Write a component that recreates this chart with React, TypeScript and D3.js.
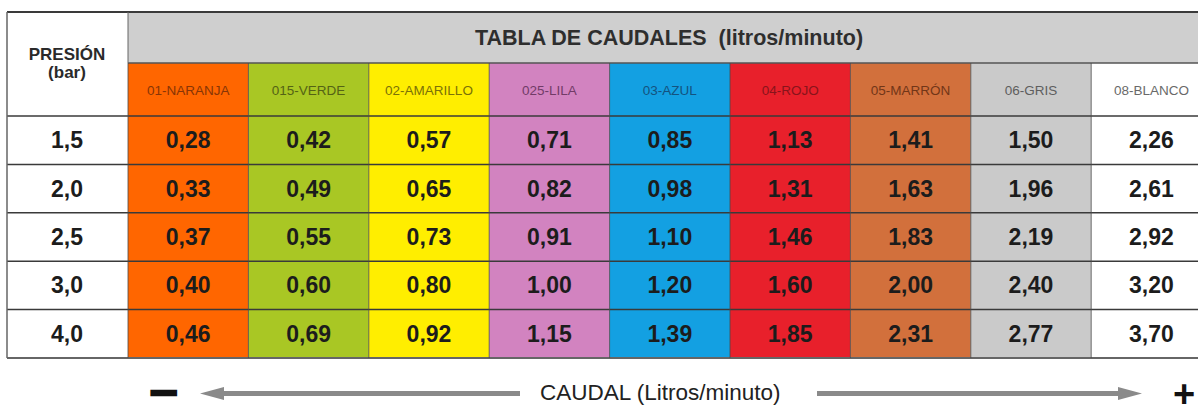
import React from "react";
import * as d3 from "d3";

const pressures = ["1,5", "2,0", "2,5", "3,0", "4,0"];
const nozzles = [
  "01-NARANJA",
  "015-VERDE",
  "02-AMARILLO",
  "025-LILA",
  "03-AZUL",
  "04-ROJO",
  "05-MARRÓN",
  "06-GRIS",
  "08-BLANCO",
];
const naranja = [0.28, 0.33, 0.37, 0.4, 0.46];
const verde = [0.42, 0.49, 0.55, 0.6, 0.69];
const amarillo = [0.57, 0.65, 0.73, 0.8, 0.92];
const lila = [0.71, 0.82, 0.91, 1.0, 1.15];
const azul = [0.85, 0.98, 1.1, 1.2, 1.39];
const rojo = [1.13, 1.31, 1.46, 1.6, 1.85];
const marron = [1.41, 1.63, 1.83, 2.0, 2.31];
const gris = [1.5, 1.96, 2.19, 2.4, 2.77];
const blanco = [2.26, 2.61, 2.92, 3.2, 3.7];
const series = [naranja, verde, amarillo, lila, azul, rojo, marron, gris, blanco];

const fills = ["#ff6600", "#a9c724", "#ffee00", "#d283c0", "#13a0e2", "#e8202b", "#d2703c", "#cacaca", "#ffffff"];
const labelInk = ["#6a2a08", "#3f4a12", "#5a520a", "#5a2a52", "#153f66", "#701218", "#5a2810", "#444", "#444"];

const W = 1198;
const H = 405;
const fmt = (v: number) => v.toFixed(2).replace(".", ",");
const font = "'Liberation Sans', Arial, sans-serif";

export default function App() {
  const left = 7;
  const x = d3.scaleBand<string>().domain(nozzles).range([128, 128 + 9 * 120.4]);
  const y = d3.scaleBand<string>().domain(pressures).range([116, 358]);
  const top = 12;
  const headBottom = 63;
  const ink = "#3a3a3a";

  return (
    <div style={{ position: "absolute", left: 0, top: 0 }}>
      <svg width={W} height={H} style={{ display: "block", background: "#fff" }} fontFamily={font}>
        {/* header band */}
        <rect x={128} y={top} width={W - 128} height={headBottom - top} fill="#cfcfcf" />
        <text x={669} y={45} textAnchor="middle" fontSize={21.5} fontWeight="bold" fill="#2e2e2e">
          TABLA DE CAUDALES{"\u00a0\u00a0"}(litros/minuto)
        </text>
        <text x={67} y={60} textAnchor="middle" fontSize={17} fontWeight="bold" fill="#2a2a2a">PRESIÓN</text>
        <text x={67} y={78} textAnchor="middle" fontSize={17} fontWeight="bold" fill="#2a2a2a">(bar)</text>

        {/* columns */}
        {nozzles.map((n, i) => (
          <g key={n}>
            <rect x={x(n)} y={headBottom} width={x.bandwidth()} height={358 - headBottom} fill={fills[i]} />
            <text
              x={(x(n) ?? 0) + x.bandwidth() / 2}
              y={(headBottom + 116) / 2 + 5}
              textAnchor="middle"
              fontSize={13.5}
              fill={labelInk[i]}
              opacity={0.8}
            >
              {n}
            </text>
            {series[i].map((v, j) => (
              <text
                key={j}
                x={(x(n) ?? 0) + x.bandwidth() / 2}
                y={(y(pressures[j]) ?? 0) + y.bandwidth() / 2 + 8}
                textAnchor="middle"
                fontSize={23}
                fontWeight="bold"
                fill="#1c1c1c"
              >
                {fmt(v)}
              </text>
            ))}
          </g>
        ))}

        {/* pressure column */}
        {pressures.map((p) => (
          <text
            key={p}
            x={67}
            y={(y(p) ?? 0) + y.bandwidth() / 2 + 8}
            textAnchor="middle"
            fontSize={23}
            fontWeight="bold"
            fill="#1c1c1c"
          >
            {p}
          </text>
        ))}

        {/* grid lines */}
        <line x1={left} x2={W} y1={top} y2={top} stroke={ink} strokeWidth={2} />
        <line x1={128} x2={W} y1={headBottom} y2={headBottom} stroke="#555" strokeWidth={1.5} />
        {pressures.map((p) => (
          <line key={p} x1={left} x2={W} y1={y(p)} y2={y(p)} stroke={ink} strokeWidth={1.5} />
        ))}
        <line x1={left} x2={W} y1={358} y2={358} stroke="#666" strokeWidth={2} />
        <line x1={left} x2={left} y1={top} y2={358} stroke="#666" strokeWidth={1.5} />
        {nozzles.map((n) => (
          <line key={n} x1={x(n)} x2={x(n)} y1={headBottom} y2={358} stroke="#4a4a4a" strokeWidth={1} opacity={0.8} />
        ))}
        <line x1={128} x2={128} y1={top} y2={headBottom} stroke="#666" strokeWidth={1} />

        {/* caudal arrow */}
        <rect x={222} y={391} width={298} height={5} fill="#8a8a8a" />
        <path d="M200,393.5 L224,387 L224,400 Z" fill="#8a8a8a" />
        <rect x={817} y={391} width={302} height={5} fill="#8a8a8a" />
        <path d="M1142,393.5 L1118,387 L1118,400 Z" fill="#8a8a8a" />
        <text x={540} y={400} fontSize={22.5} fill="#222">CAUDAL (Litros/minuto)</text>
        <text
          transform="translate(163.5,405) scale(1.3,1)"
          textAnchor="middle"
          fontSize={36}
          fontWeight="bold"
          fill="#111"
          stroke="#111"
          strokeWidth={2.5}
        >
          −
        </text>
        <text x={1184} y={407} textAnchor="middle" fontSize={38} fontWeight="bold" fill="#111">+</text>
      </svg>
    </div>
  );
}
